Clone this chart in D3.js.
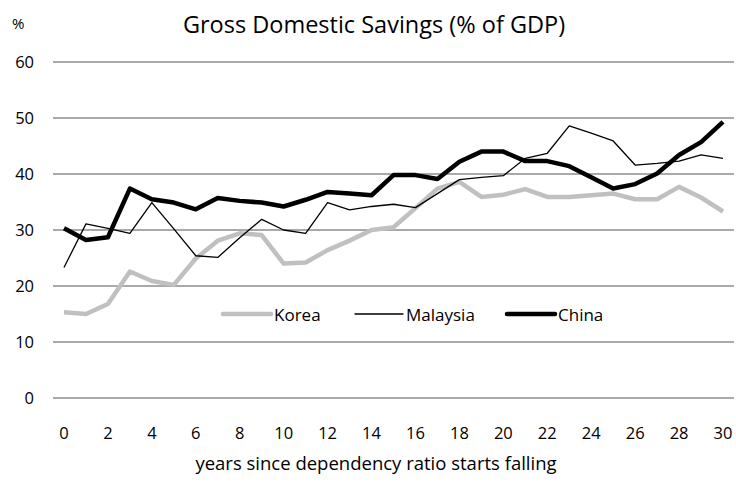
<!DOCTYPE html>
<html>
<head>
<meta charset="utf-8">
<script src="https://cdn.jsdelivr.net/npm/d3@7"></script>
<style>
  body { margin: 0; background: #fff; }
  text { font-family: "Open Sans", "Noto Sans", sans-serif; fill: #000; }
</style>
</head>
<body>
<svg id="chart"></svg>
<script>
const years = d3.range(0, 31);

const korea = [15.3, 15.0, 16.8, 22.6, 20.9, 20.2, 24.9, 28.1, 29.4, 29.1,
  24.0, 24.2, 26.4, 28.1, 30.0, 30.5, 33.9, 37.4, 38.6, 35.9,
  36.3, 37.3, 35.9, 35.9, 36.2, 36.5, 35.5, 35.5, 37.7, 35.8, 33.3];

const malaysia = [23.3, 31.1, 30.3, 29.4, 34.9, 30.2, 25.4, 25.1, 28.6, 31.9,
  30.0, 29.4, 34.9, 33.6, 34.2, 34.6, 34.0, 36.5, 39.0, 39.4,
  39.7, 42.8, 43.7, 48.6, 47.3, 45.9, 41.6, 41.9, 42.3, 43.4, 42.8];

const china = [30.3, 28.2, 28.7, 37.4, 35.5, 34.9, 33.7, 35.7, 35.2, 34.9,
  34.2, 35.4, 36.8, 36.5, 36.2, 39.8, 39.8, 39.1, 42.2, 44.0,
  44.0, 42.3, 42.3, 41.4, 39.4, 37.4, 38.2, 40.1, 43.4, 45.7, 49.3];

const yTicks = [0, 10, 20, 30, 40, 50, 60];
const xTicks = d3.range(0, 31, 2);

const series = [
  { name: "Korea", values: korea, color: "#c0c0c0", width: 4.5 },
  { name: "Malaysia", values: malaysia, color: "#000", width: 1.3 },
  { name: "China", values: china, color: "#000", width: 4.5 }
];

const width = 736, height = 483;
const svg = d3.select("#chart").attr("width", width).attr("height", height);

const x = d3.scalePoint().domain(years).range([53, 734]).padding(0.5);
const y = d3.scaleLinear().domain([0, 60]).range([398, 62]);

// gridlines
svg.append("g")
  .selectAll("line")
  .data(yTicks)
  .enter()
  .append("line")
  .attr("x1", 53).attr("x2", 734)
  .attr("y1", d => y(d)).attr("y2", d => y(d))
  .attr("stroke", "#8c8c8c")
  .attr("stroke-width", 1.3);

// y tick labels
svg.append("g")
  .selectAll("text")
  .data(yTicks)
  .enter()
  .append("text")
  .attr("x", 34)
  .attr("y", d => y(d))
  .attr("dy", "0.35em")
  .attr("text-anchor", "end")
  .attr("font-size", 16.5)
  .text(d => d);

// x tick labels
svg.append("g")
  .selectAll("text")
  .data(xTicks)
  .enter()
  .append("text")
  .attr("x", d => x(d))
  .attr("y", 439)
  .attr("text-anchor", "middle")
  .attr("font-size", 16.5)
  .text(d => d);

const line = d3.line()
  .x((d, i) => x(years[i]))
  .y(d => y(d));

svg.append("g")
  .selectAll("path")
  .data(series)
  .enter()
  .append("path")
  .attr("d", d => line(d.values))
  .attr("fill", "none")
  .attr("stroke", d => d.color)
  .attr("stroke-width", d => d.width)
  .attr("stroke-linejoin", "round");

// legend
const legendX = [223, 355, 507];
const legend = svg.append("g")
  .selectAll("g")
  .data(series)
  .enter()
  .append("g")
  .attr("transform", (d, i) => `translate(${legendX[i]}, 314)`);

legend.append("line")
  .attr("x1", 0).attr("x2", 48)
  .attr("stroke", d => d.color)
  .attr("stroke-width", d => d.width)
  .attr("stroke-linecap", "round");

legend.append("text")
  .attr("x", 51)
  .attr("y", 7)
  .attr("font-size", 17)
  .text(d => d.name);

// titles
svg.append("text")
  .attr("x", 374).attr("y", 33)
  .attr("text-anchor", "middle")
  .attr("font-size", 23.5)
  .text("Gross Domestic Savings (% of GDP)");

svg.append("text")
  .attr("x", 12).attr("y", 29)
  .attr("font-size", 15)
  .text("%");

svg.append("text")
  .attr("x", 376).attr("y", 470)
  .attr("text-anchor", "middle")
  .attr("font-size", 18.5)
  .text("years since dependency ratio starts falling");
</script>
</body>
</html>
